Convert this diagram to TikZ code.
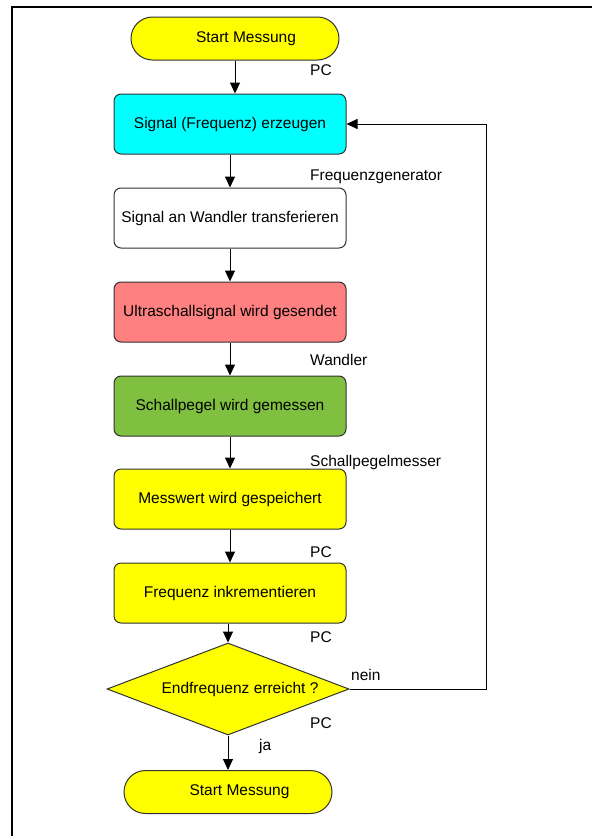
\documentclass[tikz,border=0pt]{standalone}
\usepackage{fontspec}
\setmainfont{Liberation Sans}
\usetikzlibrary{arrows.meta,shapes.geometric}
\definecolor{cyanbox}{RGB}{0,255,255}
\definecolor{redbox}{RGB}{255,128,128}
\definecolor{greenbox}{RGB}{128,192,64}
\definecolor{yellowbox}{RGB}{255,255,0}
\definecolor{outline}{RGB}{50,50,50}
\begin{document}
\begin{tikzpicture}[x=1pt,y=-1pt,
  font=\fontsize{15.5pt}{18pt}\selectfont,
  stepbox/.style={draw=outline,line width=1pt,rounded corners=7pt,
    minimum width=232pt,minimum height=60pt,inner sep=0pt},
  terminal/.style={draw=outline,line width=1pt,fill=yellowbox,rounded corners=21.5pt,
    minimum width=208pt,minimum height=43pt,inner sep=0pt},
  decision/.style={draw=outline,line width=1pt,fill=yellowbox,diamond,aspect=2.63,
    minimum width=242pt,minimum height=92pt,inner sep=0pt},
  arr/.style={line width=1pt,-{Triangle[length=11pt,width=10pt]}},
  note/.style={anchor=mid west,inner sep=0pt}]
  \useasboundingbox (0,0) rectangle (592,836);
  % page frame (top and left edges)
  \draw[line width=2.4pt] (12,836) -- (12,7) -- (592,7);

  % nodes of the flow
  \node[terminal] (start) at (235,38.5) {\hspace*{22pt}Start Messung};
  \node[stepbox,fill=cyanbox] (gen) at (230,124) {Signal (Frequenz) erzeugen};
  \node[stepbox,fill=white] (trans) at (230,218) {Signal an Wandler transferieren};
  \node[stepbox,fill=redbox] (send) at (230,312) {Ultraschallsignal wird gesendet};
  \node[stepbox,fill=greenbox] (meas) at (230,406) {Schallpegel wird gemessen};
  \node[stepbox,fill=yellowbox] (store) at (230,499) {Messwert wird gespeichert};
  \node[stepbox,fill=yellowbox] (inc) at (230,593) {Frequenz inkrementieren};
  \node[decision] (dec) at (228,689) {\hspace*{24pt}Endfrequenz erreicht ?};
  \node[terminal] (stop) at (228,792) {\hspace*{23pt}Start Messung};
  \coordinate (back) at (486,124);

  % connectors
  \draw[arr] (start.south) -- (start.south |- gen.north);
  \draw[arr] (gen) -- (trans);
  \draw[arr] (trans) -- (send);
  \draw[arr] (send) -- (meas);
  \draw[arr] (meas) -- (store);
  \draw[arr] (store) -- (inc);
  \draw[arr] (inc.south -| dec.north) -- (dec.north);
  \draw[arr] (dec.south) -- (stop.north);
  \draw[arr] (dec.east) -| (back) -- (gen.east);

  % device annotations
  \node[note] at (310,72.5) {PC};
  \node[note] at (310,177.5) {Frequenzgenerator};
  \node[note] at (310,362.5) {Wandler};
  \node[note] at (310,463.5) {Schallpegelmesser};
  \node[note] at (310,554.5) {PC};
  \node[note] at (310,639.5) {PC};
  \node[note] at (351,677.5) {nein};
  \node[note] at (310,725.5) {PC};
  \node[note] at (259,747.5) {ja};
\end{tikzpicture}
\end{document}
